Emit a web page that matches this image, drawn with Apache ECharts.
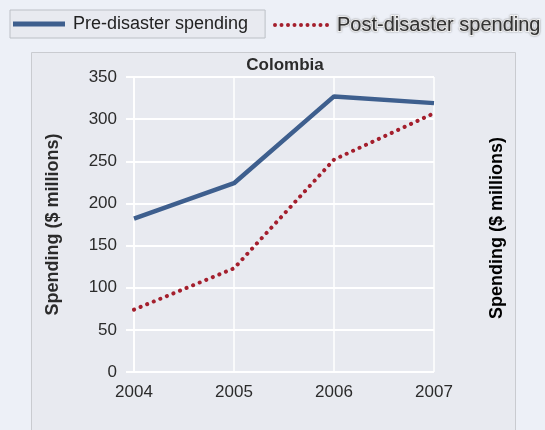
<!DOCTYPE html>
<html>
<head>
<meta charset="utf-8">
<script src="https://cdn.jsdelivr.net/npm/echarts@6/dist/echarts.min.js"></script>
<style>
  html, body { margin: 0; padding: 0; background: #edf0f7; }
  #chart { width: 545px; height: 430px; }
</style>
</head>
<body>
<div id="chart"></div>
<script>
// Colombia disaster spending, $ millions
const years = ['2004', '2005', '2006', '2007'];
const preDisaster = [182, 224, 327, 319];
const postDisaster = [74, 123, 252, 307];
const yTicks = [0, 50, 100, 150, 200, 250, 300, 350];

const FONT = 'Liberation Sans, Arial, sans-serif';
const axisFont = { fontFamily: FONT, fontSize: 17, color: '#2b2b2b' };
const nameFont = { fontFamily: FONT, fontSize: 18, fontWeight: 'bold', color: '#2b2b2b' };

// dotted legend swatch: a row of small round dots
function dotsPath(count, step, r) {
  let d = '';
  for (let i = 0; i < count; i++) {
    const cx = r + i * step;
    d += 'M' + (cx - r) + ',' + r + ' A' + r + ',' + r + ' 0 1,0 ' + (cx + r) + ',' + r +
         ' A' + r + ',' + r + ' 0 1,0 ' + (cx - r) + ',' + r + ' Z ';
  }
  return 'path://' + d;
}

const chart = echarts.init(document.getElementById('chart'));
chart.setOption({
  backgroundColor: '#edf0f7',
  animation: false,
  graphic: [
    {
      type: 'rect', z: -10,
      shape: { x: 31.5, y: 52.5, width: 484, height: 390 },
      style: { fill: '#e8eaf0', stroke: '#c9cbd0', lineWidth: 1 }
    },
    {
      type: 'text', z: 5,
      x: 497, y: 228, rotation: Math.PI / 2,
      style: Object.assign({ text: 'Spending ($ millions)', align: 'center', verticalAlign: 'middle' }, nameFont)
    }
  ],
  title: {
    text: 'Colombia',
    left: 280, top: 52, textAlign: 'center',
    textStyle: { fontFamily: FONT, fontSize: 17, fontWeight: 'bold', color: '#2b2b2b' }
  },
  legend: [
    {
      data: [{ name: 'Pre-disaster spending', icon: 'rect' }],
      left: 10, top: 10,
      padding: [5, 17, 5, 3],
      backgroundColor: '#e8eaf0',
      borderColor: '#bcc0c6', borderWidth: 1,
      itemWidth: 52, itemHeight: 5, itemGap: 0,
      textStyle: { fontFamily: FONT, fontSize: 18, color: '#222', padding: [0, 0, 0, 3] }
    },
    {
      data: [{ name: 'Post-disaster spending', icon: dotsPath(9, 6.5, 2) }],
      left: 271, top: 11,
      padding: [3, 2, 3, 2],
      itemWidth: 56, itemHeight: 4, itemGap: 0,
      textStyle: {
        fontFamily: FONT, fontSize: 20, color: '#333', padding: [0, 0, 0, 3],
        textBorderColor: '#ffffff', textBorderWidth: 2,
        textShadowColor: 'rgba(90,90,90,0.6)', textShadowBlur: 2
      }
    }
  ],
  grid: { left: 134, right: 111, top: 77, bottom: 58 },
  xAxis: {
    type: 'category',
    data: years,
    boundaryGap: false,
    axisLine: { show: false },
    axisTick: { show: false },
    axisLabel: Object.assign({ margin: 12 }, axisFont),
    splitLine: { show: true, lineStyle: { color: '#ffffff', width: 1.5 } }
  },
  yAxis: {
    type: 'value',
    min: yTicks[0], max: yTicks[yTicks.length - 1], interval: 50,
    name: 'Spending ($ millions)',
    nameLocation: 'middle', nameGap: 72, nameRotate: 90,
    nameTextStyle: nameFont,
    axisLine: { show: true, lineStyle: { color: '#ffffff', width: 1.5 } },
    axisTick: { show: true, length: 8, lineStyle: { color: '#ffffff', width: 2 } },
    axisLabel: Object.assign({ margin: 17 }, axisFont),
    splitLine: { show: true, lineStyle: { color: '#ffffff', width: 2 } }
  },
  series: [
    {
      name: 'Pre-disaster spending',
      type: 'line',
      data: preDisaster,
      symbol: 'none',
      lineStyle: { color: '#3e5f8e', width: 4.5 },
      itemStyle: { color: '#3e5f8e' },
      z: 3
    },
    {
      name: 'Post-disaster spending',
      type: 'line',
      data: postDisaster,
      symbol: 'none',
      lineStyle: { color: '#a41f2d', width: 4, type: [0.1, 7], cap: 'round' },
      itemStyle: { color: '#a41f2d' },
      z: 4
    }
  ]
});
</script>
</body>
</html>
